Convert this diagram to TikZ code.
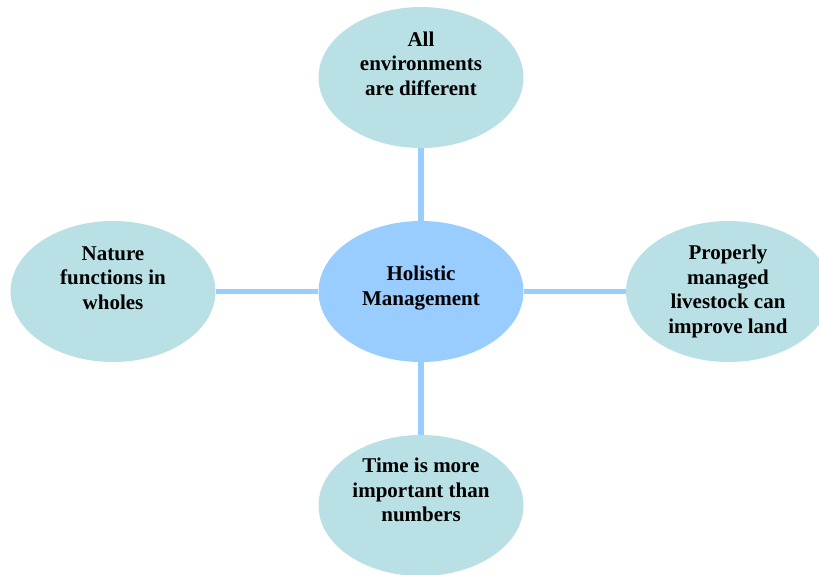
\documentclass[tikz,border=0pt]{standalone}
\usepackage{fontspec}
\setmainfont{Liberation Serif}
\usetikzlibrary{shapes.geometric,backgrounds}
\definecolor{petal}{HTML}{B9E0E4}
\definecolor{hub}{HTML}{99CCFF}
\definecolor{link}{HTML}{99CCFF}
\tikzset{
  bubble/.style={ellipse, draw=none, fill=petal, minimum width=205pt, minimum height=141pt, inner sep=0pt},
  hubbubble/.style={bubble, fill=hub},
  caption/.style={align=center, anchor=base, inner sep=0pt, font=\bfseries\fontsize{21}{24.4}\selectfont},
  linkline/.style={draw=link, line width=5.7pt}
}
\begin{document}
\begin{tikzpicture}[x=1pt,y=-1pt]
\useasboundingbox (0,0) rectangle (819,574);
\clip (0,0) rectangle (819,574);
\node[hubbubble] (ctr) at (421,291.5) {};
\node[bubble] (top) at (421,77.5) {};
\node[bubble] (lft) at (113,291.5) {};
\node[bubble] (rgt) at (728.5,291.5) {};
\node[bubble] (bot) at (421,505.5) {};
\node[caption] (ctrt) at (421,305) {Holistic\\Management};
\node[caption] (topt) at (421,95) {All\\environments\\are different};
\node[caption] (lftt) at (113,309.3) {Nature\\functions in\\wholes};
\node[caption] (rgtt) at (728,333) {Properly\\managed\\livestock can\\improve land};
\node[caption] (bott) at (421,521.7) {Time is more\\important than\\numbers};
\begin{scope}[on background layer]
\draw[linkline] (top.south) -- (ctr.north);
\draw[linkline] (ctr.south) -- (bot.north);
\draw[linkline] (lft.east) -- (ctr.west);
\draw[linkline] (ctr.east) -- (rgt.west);
\end{scope}
\end{tikzpicture}
\end{document}
